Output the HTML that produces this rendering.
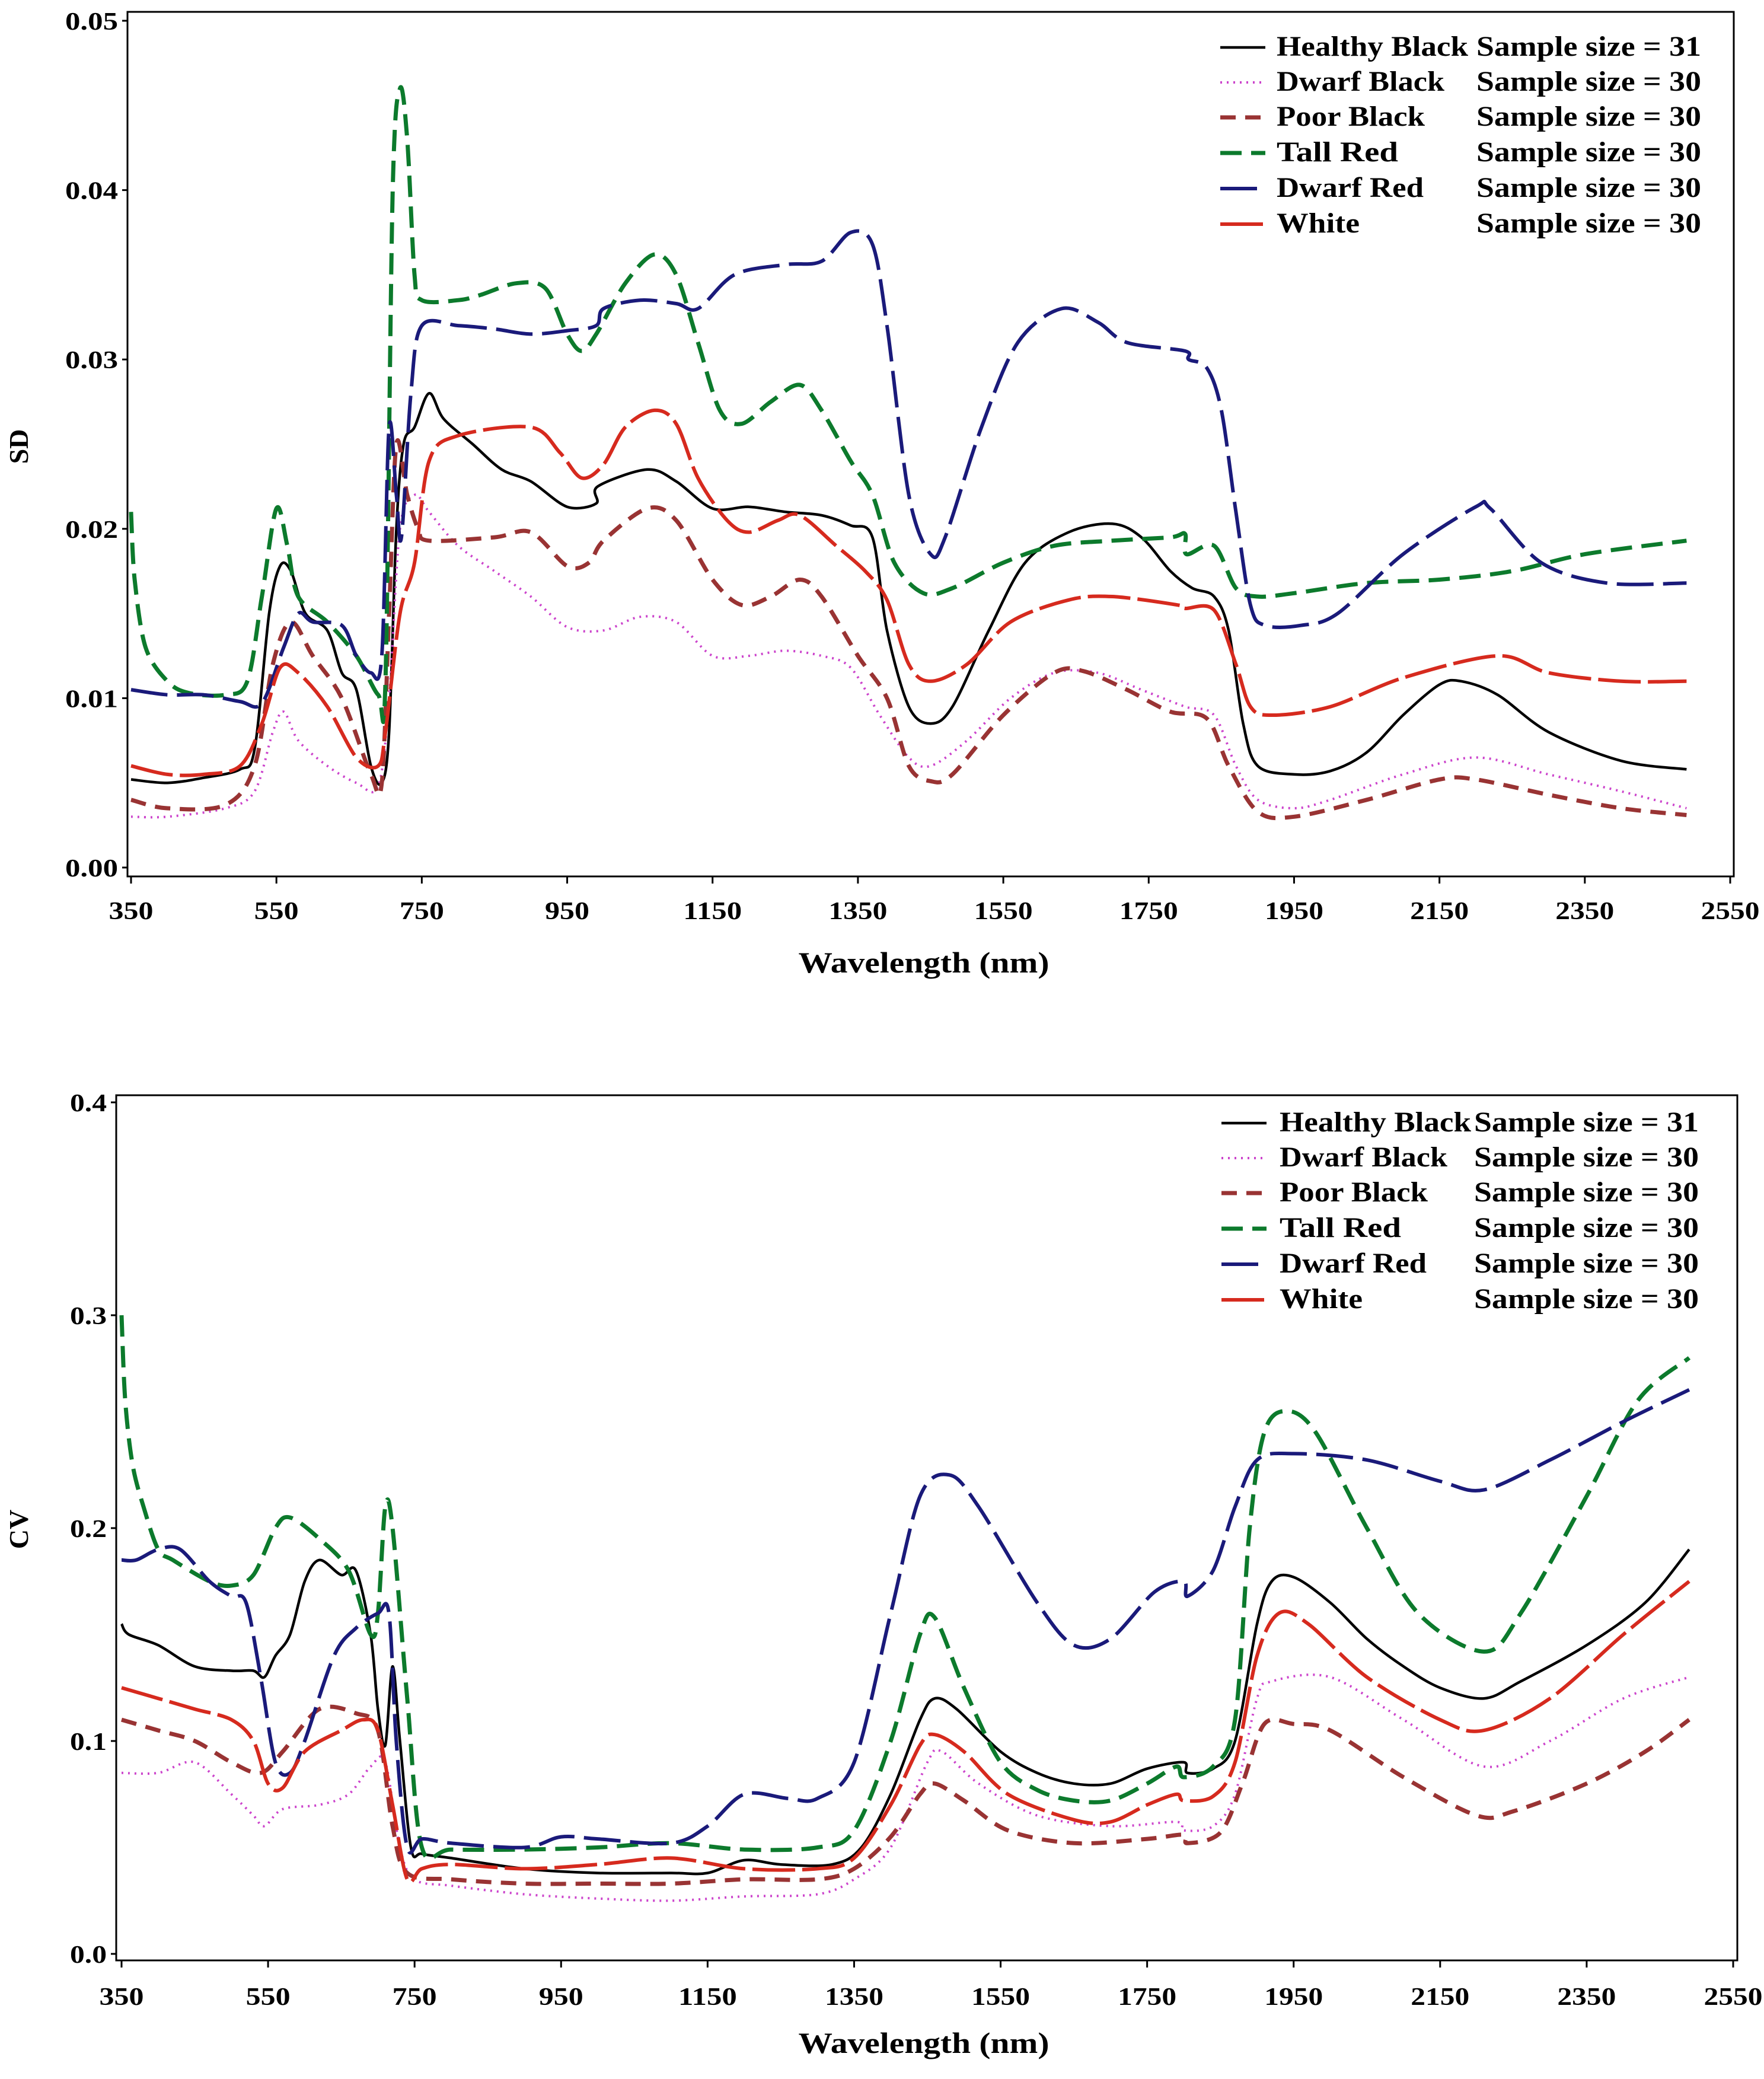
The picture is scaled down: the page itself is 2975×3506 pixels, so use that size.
<!DOCTYPE html>
<html><head><meta charset="utf-8"><style>
html,body{margin:0;padding:0;background:#fff;}
svg{display:block;}
text{font-family:"Liberation Serif",serif;font-weight:bold;fill:#000;}
</style></head><body>
<svg id="fig" xmlns="http://www.w3.org/2000/svg" width="2975" height="3506" viewBox="0 0 2975 3506"></svg>
<script>
// ---------- data ----------
const seriesNames = ["Healthy Black","Dwarf Black","Poor Black","Tall Red","Dwarf Red","White"];
const sampleSizes = [31,30,30,30,30,30];
const xTicks = [350,550,750,950,1150,1350,1550,1750,1950,2150,2350,2550];
const sdTicks = [0,0.01,0.02,0.03,0.04,0.05];
const sdTickLabels = ["0.00","0.01","0.02","0.03","0.04","0.05"];
const cvTicks = [0,0.1,0.2,0.3,0.4];
const cvTickLabels = ["0.0","0.1","0.2","0.3","0.4"];

// SD panel: wavelengths / values
const sdHealthyW = [350,400,450,500,520,540,555,570,590,620,640,660,680,695,705,715,725,740,760,780,820,860,900,950,990,992,1060,1100,1150,1200,1250,1300,1340,1370,1390,1420,1450,1480,1530,1580,1640,1700,1740,1780,1810,1840,1860,1880,1900,1950,2000,2050,2100,2150,2180,2230,2300,2400,2490];
const sdHealthyV = [0.0052,0.005,0.0053,0.0058,0.007,0.015,0.0178,0.0175,0.015,0.014,0.0115,0.0105,0.006,0.005,0.008,0.02,0.025,0.026,0.028,0.0265,0.025,0.0235,0.0228,0.0213,0.0215,0.0225,0.0235,0.0228,0.0212,0.0213,0.021,0.0208,0.0202,0.0195,0.014,0.0095,0.0085,0.0095,0.014,0.018,0.0198,0.0203,0.0195,0.0175,0.0165,0.016,0.014,0.0085,0.006,0.0055,0.0057,0.0068,0.009,0.0108,0.011,0.0102,0.008,0.0063,0.0058];
const sdDwarfBlackW = [350,400,480,520,545,560,580,620,660,690,705,720,740,760,800,850,900,950,1000,1050,1100,1150,1200,1250,1300,1340,1380,1420,1450,1500,1560,1620,1680,1740,1800,1840,1870,1900,1950,2000,2100,2200,2300,2400,2490];
const sdDwarfBlackV = [0.003,0.003,0.0035,0.0045,0.008,0.0092,0.0075,0.006,0.005,0.0048,0.01,0.02,0.022,0.021,0.019,0.0175,0.016,0.0142,0.014,0.0148,0.0145,0.0125,0.0125,0.0128,0.0125,0.0118,0.009,0.0065,0.006,0.0075,0.01,0.0115,0.0115,0.0105,0.0095,0.009,0.006,0.004,0.0035,0.004,0.0055,0.0065,0.0055,0.0045,0.0035];
const sdPoorBlackW = [350,400,480,520,545,570,600,640,680,695,705,715,730,745,760,850,900,950,980,1000,1060,1100,1150,1190,1230,1270,1300,1350,1390,1420,1450,1480,1550,1620,1660,1720,1780,1830,1860,1900,1950,2050,2150,2200,2300,2400,2490];
const sdPoorBlackV = [0.004,0.0035,0.0037,0.006,0.012,0.0145,0.0125,0.01,0.0055,0.005,0.015,0.025,0.022,0.02,0.0193,0.0195,0.0198,0.0178,0.018,0.0193,0.0212,0.0205,0.017,0.0155,0.016,0.017,0.016,0.0125,0.01,0.006,0.0051,0.0055,0.009,0.0115,0.0116,0.0105,0.0092,0.0088,0.006,0.0033,0.003,0.004,0.0052,0.0052,0.0043,0.0035,0.0031];
const sdTallRedW = [350,355,370,400,430,480,510,530,550,565,580,620,660,690,700,710,720,730,740,750,800,830,880,920,950,970,990,1030,1070,1100,1130,1160,1190,1230,1270,1300,1340,1370,1400,1440,1480,1550,1620,1700,1780,1800,1802,1840,1870,1900,1950,2050,2150,2250,2350,2490];
const sdTallRedV = [0.021,0.017,0.013,0.011,0.0103,0.0102,0.011,0.016,0.0212,0.019,0.016,0.0145,0.0125,0.0102,0.011,0.04,0.046,0.043,0.035,0.0335,0.0335,0.0338,0.0345,0.0342,0.0315,0.0305,0.0315,0.0345,0.0362,0.035,0.031,0.027,0.0262,0.0275,0.0285,0.027,0.024,0.022,0.018,0.0162,0.0165,0.018,0.019,0.0193,0.0195,0.0197,0.0185,0.019,0.0165,0.016,0.0162,0.0168,0.017,0.0175,0.0185,0.0193];
const sdDwarfRedW = [350,400,450,500,530,560,580,600,640,660,680,695,705,715,722,735,750,800,850,900,950,990,1000,1050,1100,1130,1180,1250,1300,1340,1370,1390,1420,1450,1470,1520,1570,1630,1680,1720,1800,1805,1830,1850,1870,1890,1910,1960,2010,2100,2200,2220,2290,2380,2490];
const sdDwarfRedV = [0.0105,0.0102,0.0102,0.0098,0.0097,0.013,0.015,0.0145,0.0143,0.0125,0.0115,0.0125,0.026,0.022,0.0195,0.028,0.032,0.032,0.0318,0.0315,0.0317,0.032,0.033,0.0335,0.0333,0.033,0.035,0.0356,0.0358,0.0375,0.0368,0.032,0.022,0.0185,0.0195,0.026,0.031,0.033,0.0322,0.031,0.0305,0.03,0.0295,0.027,0.021,0.0155,0.0143,0.0143,0.015,0.0185,0.0213,0.0212,0.018,0.0168,0.0168];
const sdWhiteW = [350,400,450,500,530,555,580,620,660,690,700,720,740,760,800,900,940,970,1000,1030,1070,1100,1130,1170,1200,1240,1270,1320,1360,1390,1420,1450,1500,1560,1640,1700,1790,1800,1840,1870,1890,1920,2000,2100,2230,2300,2400,2490];
const sdWhiteV = [0.006,0.0055,0.0055,0.006,0.0085,0.0118,0.0115,0.0095,0.0065,0.006,0.008,0.015,0.018,0.024,0.0255,0.026,0.0245,0.023,0.0238,0.026,0.027,0.0262,0.023,0.0205,0.0198,0.0205,0.0208,0.019,0.0175,0.0158,0.012,0.011,0.012,0.0145,0.0158,0.016,0.0155,0.0153,0.0152,0.012,0.0095,0.009,0.0095,0.0112,0.0125,0.0115,0.011,0.011];

// CV panel
const cvHealthyW = [350,360,400,450,500,530,545,560,580,600,620,650,670,690,700,710,720,730,745,760,800,900,1000,1100,1150,1200,1250,1320,1360,1400,1440,1460,1490,1550,1600,1650,1700,1750,1800,1805,1840,1870,1900,1920,1950,2000,2050,2100,2150,2210,2260,2350,2430,2490];
const cvHealthyV = [0.155,0.15,0.145,0.135,0.133,0.133,0.13,0.14,0.15,0.175,0.185,0.178,0.18,0.15,0.115,0.098,0.135,0.1,0.05,0.047,0.045,0.04,0.038,0.038,0.038,0.044,0.042,0.042,0.05,0.075,0.11,0.12,0.115,0.095,0.085,0.08,0.08,0.087,0.09,0.085,0.087,0.1,0.155,0.175,0.177,0.165,0.148,0.135,0.125,0.12,0.128,0.145,0.165,0.19];
const cvDwarfBlackW = [350,400,450,500,530,545,570,620,660,690,710,730,750,800,900,1000,1100,1200,1300,1350,1400,1450,1470,1520,1600,1700,1790,1800,1840,1870,1900,1920,2000,2100,2210,2300,2400,2490];
const cvDwarfBlackV = [0.085,0.085,0.09,0.075,0.065,0.06,0.068,0.07,0.075,0.088,0.09,0.05,0.035,0.032,0.028,0.026,0.025,0.027,0.028,0.035,0.05,0.09,0.095,0.08,0.065,0.06,0.062,0.058,0.06,0.075,0.12,0.128,0.13,0.11,0.088,0.1,0.12,0.13];
const cvPoorBlackW = [350,400,450,500,540,570,620,670,700,720,740,800,900,1000,1100,1200,1300,1350,1400,1440,1460,1500,1560,1650,1750,1800,1805,1850,1880,1910,1950,2000,2100,2200,2250,2350,2430,2490];
const cvPoorBlackV = [0.11,0.105,0.1,0.09,0.085,0.095,0.115,0.113,0.105,0.06,0.038,0.035,0.033,0.033,0.033,0.035,0.035,0.04,0.055,0.075,0.08,0.072,0.058,0.052,0.054,0.056,0.052,0.057,0.08,0.108,0.108,0.105,0.083,0.065,0.067,0.08,0.095,0.11];
const cvTallRedW = [350,355,365,380,400,420,470,500,530,560,580,620,660,690,700,710,720,740,760,800,900,1000,1100,1200,1300,1350,1400,1440,1460,1500,1550,1600,1650,1700,1750,1790,1800,1840,1870,1890,1910,1940,1980,2050,2120,2210,2260,2350,2420,2490];
const cvTallRedV = [0.3,0.26,0.23,0.21,0.19,0.185,0.175,0.173,0.178,0.2,0.205,0.195,0.18,0.15,0.16,0.21,0.2,0.12,0.05,0.049,0.049,0.05,0.052,0.049,0.05,0.058,0.1,0.15,0.158,0.125,0.09,0.077,0.072,0.072,0.08,0.088,0.083,0.088,0.11,0.2,0.245,0.255,0.245,0.2,0.16,0.142,0.16,0.215,0.26,0.28];
const cvDwarfRedW = [350,370,400,430,470,500,520,540,560,580,600,640,670,700,715,725,740,760,800,900,950,1000,1100,1150,1200,1260,1300,1350,1400,1440,1480,1520,1600,1650,1700,1760,1800,1805,1840,1870,1900,1950,2050,2150,2210,2300,2400,2490];
const cvDwarfRedV = [0.185,0.185,0.19,0.19,0.175,0.168,0.165,0.13,0.09,0.085,0.1,0.14,0.153,0.16,0.16,0.1,0.05,0.054,0.052,0.05,0.055,0.054,0.052,0.06,0.075,0.073,0.073,0.09,0.16,0.215,0.225,0.21,0.165,0.145,0.148,0.17,0.175,0.168,0.18,0.21,0.232,0.235,0.232,0.222,0.218,0.232,0.25,0.265];
const cvWhiteW = [350,400,450,500,530,550,570,600,650,680,700,720,740,760,800,900,1000,1100,1200,1300,1350,1400,1440,1460,1500,1560,1650,1700,1750,1790,1800,1840,1870,1900,1930,1970,2050,2150,2210,2300,2400,2490];
const cvWhiteV = [0.125,0.12,0.115,0.11,0.1,0.08,0.078,0.095,0.105,0.11,0.105,0.07,0.035,0.04,0.042,0.04,0.042,0.045,0.04,0.04,0.045,0.07,0.098,0.103,0.095,0.075,0.063,0.062,0.07,0.075,0.072,0.074,0.09,0.14,0.16,0.155,0.13,0.11,0.105,0.12,0.15,0.175];

// ---------- drawing ----------
const NS = "http://www.w3.org/2000/svg";
const svg = document.getElementById("fig");
function mk(tag, attrs, parent){
  const e = document.createElementNS(NS, tag);
  for (const k in attrs) e.setAttribute(k, attrs[k]);
  (parent||svg).appendChild(e);
  return e;
}
const colors = ["#000000","#cc44cc","#993333","#0c7a2c","#1a1a7a","#d62a1e"];
const widths = [4.5,4,7,7,6,6];
const dashes = ["none","3 8","26 16","36 16","62 16","72 12"];

function smoothPath(pts){
  let d = "M" + pts[0][0].toFixed(1) + "," + pts[0][1].toFixed(1);
  for (let i = 0; i < pts.length - 1; i++){
    const p0 = pts[Math.max(0,i-1)], p1 = pts[i], p2 = pts[i+1], p3 = pts[Math.min(pts.length-1,i+2)];
    const t = 0.16;
    const c1x = p1[0] + (p2[0]-p0[0])*t, c1y = p1[1] + (p2[1]-p0[1])*t;
    const c2x = p2[0] - (p3[0]-p1[0])*t, c2y = p2[1] - (p3[1]-p1[1])*t;
    d += " C" + c1x.toFixed(1) + "," + c1y.toFixed(1) + " " + c2x.toFixed(1) + "," + c2y.toFixed(1) + " " + p2[0].toFixed(1) + "," + p2[1].toFixed(1);
  }
  return d;
}

function panel(cfg){
  const g = mk("g", {});
  
  
  const xs = w => cfg.x0 + (w - 350) * (cfg.x1 - cfg.x0) / 2200;
  const ys = v => cfg.y0 - v * (cfg.y0 - cfg.yTop) / cfg.vMax;
  const frame = mk("rect", {x:cfg.L, y:cfg.T, width:cfg.R-cfg.L, height:cfg.B-cfg.T, fill:"none", stroke:"#000", "stroke-width":3}, g);
  
  
  cfg.yt.forEach((v,i)=>{
    const y = ys(v);
    const t = mk("line", {x1:cfg.L-9, x2:cfg.L, y1:y, y2:y, stroke:"#000","stroke-width":3}, g);
    
    
    const lab = mk("text", {x:cfg.L-16, y:y+15, "text-anchor":"end", "font-size":42, textLength:cfg.ylw, lengthAdjust:"spacingAndGlyphs"}, g);
    lab.textContent = cfg.ytl[i];
    
    
  });
  xTicks.forEach(w=>{
    const x = xs(w);
    const t = mk("line", {x1:x, x2:x, y1:cfg.B, y2:cfg.B+12, stroke:"#000","stroke-width":3}, g);
    
    
    const lab = mk("text", {x:x, y:cfg.xlb, "text-anchor":"middle", "font-size":42, textLength:(w<1000?75:99), lengthAdjust:"spacingAndGlyphs"}, g);
    lab.textContent = String(w);
    
    
  });
  const xt = mk("text", {x:1558, y:cfg.xtb, "text-anchor":"middle", "font-size":50, textLength:423, lengthAdjust:"spacingAndGlyphs"}, g);
  xt.textContent = "Wavelength (nm)";
  
  
  const yt = mk("text", {x:0, y:0, "text-anchor":"middle", "font-size":46, transform:`translate(47,${cfg.ytc}) rotate(-90)`}, g);
  yt.textContent = cfg.ylabel;
  
  
  cfg.data.forEach((s,i)=>{
    const pts = s[0].map((w,j)=>[xs(w), ys(s[1][j])]);
    const p = mk("path", {d:smoothPath(pts), fill:"none", stroke:colors[i], "stroke-width":widths[i], "stroke-dasharray":dashes[i], "stroke-linejoin":"round"}, g);
    
    
  });
  const lg = mk("g", {}, g);
  
  
  seriesNames.forEach((n,i)=>{
    const by = cfg.legY[i];
    const ln = mk("line", {x1:cfg.legLx, x2:cfg.legLx+76, y1:by-14, y2:by-14, stroke:colors[i], "stroke-width":widths[i], "stroke-dasharray":dashes[i]}, lg);
    
    
    const nameLens = [323, 283, 250, 205, 248, 140];
    const t1 = mk("text", {x:cfg.legTx, y:by, "font-size":48, textLength:nameLens[i], lengthAdjust:"spacingAndGlyphs"}, lg);
    t1.textContent = n;
    
    
    const t2 = mk("text", {x:cfg.legSx, y:by, "font-size":48, textLength:379, lengthAdjust:"spacingAndGlyphs"}, lg);
    t2.textContent = "Sample size = " + sampleSizes[i];
    
    
  });
}

panel({name:"sd-chart", L:215, R:2924, T:20, B:1478, x0:221, x1:2918, y0:1463, yTop:35, vMax:0.05,
  yt:sdTicks, ytl:sdTickLabels, ylw:89, xlb:1550, xtb:1640, ytc:753, ylabel:"SD",
  legY:[94,153,212,272,332,392], legLx:2058, legTx:2153, legSx:2490,
  data:[[sdHealthyW,sdHealthyV],[sdDwarfBlackW,sdDwarfBlackV],[sdPoorBlackW,sdPoorBlackV],[sdTallRedW,sdTallRedV],[sdDwarfRedW,sdDwarfRedV],[sdWhiteW,sdWhiteV]]});

panel({name:"cv-chart", L:196, R:2930, T:1847, B:3306, x0:205, x1:2923, y0:3295, yTop:1859, vMax:0.4,
  yt:cvTicks, ytl:cvTickLabels, ylw:62, xlb:3381, xtb:3462, ytc:2579, ylabel:"CV",
  legY:[1908,1967,2026,2086,2146,2206], legLx:2060, legTx:2158, legSx:2486,
  data:[[cvHealthyW,cvHealthyV],[cvDwarfBlackW,cvDwarfBlackV],[cvPoorBlackW,cvPoorBlackV],[cvTallRedW,cvTallRedV],[cvDwarfRedW,cvDwarfRedV],[cvWhiteW,cvWhiteV]]});
</script>
</body></html>
